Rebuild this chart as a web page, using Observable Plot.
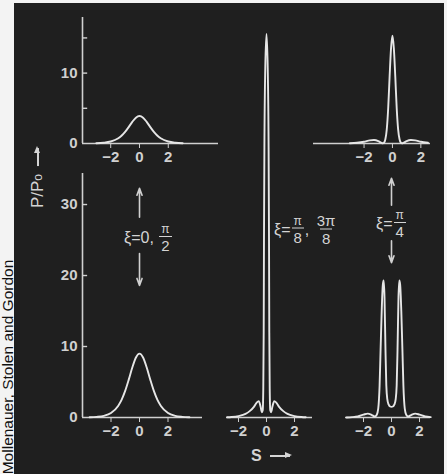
<!DOCTYPE html>
<html><head><meta charset="utf-8">
<script src="https://cdn.jsdelivr.net/npm/d3@7"></script>
<script src="https://cdn.jsdelivr.net/npm/@observablehq/plot@0.6"></script>
<style>
html,body{margin:0;padding:0;background:#f3f3f3;}
#page{position:relative;width:447px;height:474px;overflow:hidden;background:#f3f3f3;font-family:"Liberation Sans",Arial,sans-serif;}
#panel{position:absolute;left:14px;top:3px;width:430px;height:471px;background:#1f1f1f;}
.pp{position:absolute;overflow:visible;}
.pp text{font-weight:bold;}
.lbl{position:absolute;color:#d4d4d4;font-size:16px;display:flex;align-items:center;white-space:nowrap;transform:translateY(-50%);line-height:1;}
.frac{display:inline-flex;flex-direction:column;align-items:center;line-height:1;margin:0 1px;}
.frac .n{font-size:12px;padding:0 2px 1px;}
.frac .d{font-size:15px;border-top:1.5px solid #d4d4d4;padding:1px 2px 0;}
.arr{display:inline-block;position:relative;width:20px;height:1.6px;background:#d4d4d4;margin-left:8px;}
.arr::after{content:"";position:absolute;right:-2px;top:-3px;border-left:7px solid #d4d4d4;border-top:3.8px solid transparent;border-bottom:3.8px solid transparent;}
#pp0{position:absolute;left:38px;top:178px;transform:translate(-50%,-50%) rotate(-90deg);color:#d4d4d4;font-size:17px;display:flex;align-items:center;white-space:nowrap;}
#pp0 sub{font-size:12px;vertical-align:-3px;}
#side{position:absolute;left:7.5px;top:367px;transform:translate(-50%,-50%) rotate(-90deg);color:#111;font-size:15.5px;white-space:nowrap;}
</style>
</head><body>
<div id="page"><div id="panel"></div></div>
<script>
// ---- data ----
const xTickValues = [-2, 0, 2];
const yTicksTop = [0, 10];
const yMinorTop = [5, 10, 15];
const yTicksBottom = [0, 10, 20, 30];

// top-left: xi = 0, pi/2 (N = 2)
const sTopLeft = [-3, -2.5, -2, -1.5, -1.25, -1, -0.75, -0.5, -0.25, 0, 0.25, 0.5, 0.75, 1, 1.25, 1.5, 2, 2.5, 3];
const pTopLeft = [0.04, 0.11, 0.28, 0.7, 1.1, 1.64, 2.33, 3.07, 3.67, 3.9, 3.67, 3.07, 2.33, 1.64, 1.1, 0.7, 0.28, 0.11, 0.04];

// top-right: xi = pi/4 (N = 2)
const sTopRight = [-3, -2.5, -2, -1.6, -1.3, -1, -0.8, -0.68, -0.58, -0.5, -0.4, -0.3, -0.2, -0.1, 0, 0.1, 0.2, 0.3, 0.4, 0.5, 0.58, 0.68, 0.8, 1, 1.3, 1.6, 2, 2.5];
const pTopRight = [0.04, 0.1, 0.25, 0.45, 0.5, 0.35, 0.12, 0.03, 0.15, 0.6, 2.0, 5.0, 9.5, 13.5, 15.3, 13.5, 9.5, 5.0, 2.0, 0.6, 0.15, 0.03, 0.12, 0.35, 0.5, 0.45, 0.25, 0.1];

// bottom-left: xi = 0, pi/2 (N = 3)
const sBotLeft = [-3.5, -3, -2.5, -2, -1.5, -1.25, -1, -0.75, -0.5, -0.25, 0, 0.25, 0.5, 0.75, 1, 1.25, 1.5, 2, 2.5, 3, 3.5];
const pBotLeft = [0.03, 0.09, 0.24, 0.64, 1.63, 2.52, 3.78, 5.37, 7.08, 8.46, 9.0, 8.46, 7.08, 5.37, 3.78, 2.52, 1.63, 0.64, 0.24, 0.09, 0.03];

// bottom-middle: xi = pi/8, 3pi/8 (N = 3)
const sBotMid = [-2.8, -2.5, -2, -1.5, -1.2, -0.9, -0.7, -0.55, -0.42, -0.33, -0.27, -0.23, -0.2, -0.18, -0.15, -0.09, 0, 0.09, 0.15, 0.18, 0.2, 0.23, 0.27, 0.33, 0.42, 0.55, 0.7, 0.9, 1.2, 1.5, 2, 2.5, 2.8];
const pBotMid = [0.03, 0.07, 0.2, 0.5, 0.9, 1.5, 2.1, 2.3, 1.5, 0.75, 1.0, 4, 12, 25, 38, 49, 54, 49, 38, 25, 12, 4, 1.0, 0.75, 1.5, 2.3, 2.1, 1.5, 0.9, 0.5, 0.2, 0.07, 0.03];

// bottom-right: xi = pi/4 (N = 3)
const sBotRight = [-3.2, -2.8, -2.4, -2, -1.7, -1.4, -1.2, -1.05, -0.95, -0.85, -0.78, -0.7, -0.62, -0.56, -0.5, -0.43, -0.37, -0.3, -0.2, -0.1, 0, 0.1, 0.2, 0.3, 0.37, 0.43, 0.5, 0.56, 0.62, 0.7, 0.78, 0.85, 0.95, 1.05, 1.2, 1.4, 1.7, 2, 2.4, 2.8];
const pBotRight = [0.01, 0.05, 0.15, 0.4, 0.55, 0.35, 0.15, 0.4, 1.2, 4.5, 9.5, 15, 18.7, 19.3, 17, 9.5, 4.5, 2.6, 1.8, 1.55, 1.5, 1.55, 1.8, 2.6, 4.5, 9.5, 17, 19.3, 18.7, 15, 9.5, 4.5, 1.2, 0.4, 0.15, 0.35, 0.55, 0.4, 0.15, 0.05];

// ---- drawing ----
const page = document.getElementById("page");
const INK = "#d0d0d0", CURVE = "#e6e6e6";
const mL = 34, mR = 8, mT = 8, mB = 30;
const rows = (s, p) => s.map((v, i) => ({s: v, p: p[i]}));
const intFmt = d3.format("d");

function makePanel(cfg) {
  const [fx0, fx1, fy0, fy1] = cfg.frame;
  const xa = cfg.xDomain[0];
  const marks = [
    Plot.ruleY([0], {stroke: INK, strokeWidth: 1.6}),
    Plot.line(rows(cfg.s, cfg.p), {x: "s", y: "p", curve: "monotone-x", stroke: CURVE, strokeWidth: 1.9})
  ];
  if (cfg.yTicks) {
    marks.unshift(Plot.ruleX([xa], {stroke: INK, strokeWidth: 1.6}));
    marks.push(Plot.ruleY(cfg.yMinor, {y: d => d, x1: () => xa, x2: () => xa + 0.36, stroke: INK, strokeWidth: 1.4}));
  }
  if (cfg.extra) marks.push(...cfg.extra);
  const chart = Plot.plot({
    width: fx1 - fx0 + mL + mR,
    height: fy1 - fy0 + mT + mB,
    marginLeft: mL, marginRight: mR, marginTop: mT, marginBottom: mB,
    x: {domain: cfg.xDomain, ticks: xTickValues, tickFormat: intFmt, tickSize: 5, tickPadding: 3, label: null},
    y: cfg.yTicks
      ? {domain: cfg.yDomain, ticks: cfg.yTicks, tickFormat: intFmt, tickSize: 0, tickPadding: 5, label: null}
      : {domain: cfg.yDomain, axis: null},
    style: {background: "transparent", color: INK, fontSize: "15px", fontFamily: "'Liberation Sans', Arial, sans-serif", overflow: "visible"},
    marks
  });
  chart.classList.add("pp");
  chart.style.left = (fx0 - mL) + "px";
  chart.style.top = (fy0 - mT) + "px";
  page.appendChild(chart);
}

const arrowStyle = {stroke: INK, strokeWidth: 1.6, headLength: 7, headAngle: 40};

makePanel({frame: [82, 218, 17, 143], xDomain: [-3.96, 5.49], yDomain: [0, 17.9],
  yTicks: yTicksTop, yMinor: yMinorTop, s: sTopLeft, p: pTopLeft});
makePanel({frame: [313, 430, 17, 143], xDomain: [-5.56, 2.68], yDomain: [0, 17.9],
  s: sTopRight, p: pTopRight});
makePanel({frame: [82, 202, 173, 417], xDomain: [-4.0, 4.42], yDomain: [0, 34.37],
  yTicks: yTicksBottom, yMinor: yTicksBottom.slice(1), s: sBotLeft, p: pBotLeft,
  extra: [
    Plot.arrow([0], {x1: () => 0, y1: () => 28.2, x2: () => 0, y2: () => 32.3, ...arrowStyle}),
    Plot.arrow([0], {x1: () => 0, y1: () => 23.1, x2: () => 0, y2: () => 18.6, ...arrowStyle})
  ]});
makePanel({frame: [226, 312, 34, 417], xDomain: [-2.857, 3.286], yDomain: [0, 53.94],
  s: sBotMid, p: pBotMid});
makePanel({frame: [345, 430, 168, 417], xDomain: [-3.286, 2.786], yDomain: [0, 35.07],
  s: sBotRight, p: pBotRight,
  extra: [
    Plot.arrow([0], {x1: () => 0, y1: () => 29.9, x2: () => 0, y2: () => 33.7, ...arrowStyle}),
    Plot.arrow([0], {x1: () => 0, y1: () => 24.9, x2: () => 0, y2: () => 21.8, ...arrowStyle})
  ]});

// ---- text annotations ----
function addHTML(html) {
  const t = document.createElement("template");
  t.innerHTML = html.trim();
  page.appendChild(t.content.firstChild);
}
addHTML(`<div class="lbl" style="left:124px;top:238px;">ξ=0,&nbsp;<span class="frac"><span class="n">π</span><span class="d">2</span></span></div>`);
addHTML(`<div class="lbl" style="left:274px;top:229px;">ξ=<span class="frac"><span class="n">π</span><span class="d">8</span></span>,&nbsp;<span class="frac"><span class="n" style="font-size:15px">3π</span><span class="d">8</span></span></div>`);
addHTML(`<div class="lbl" style="left:376px;top:224px;">ξ=<span class="frac"><span class="n">π</span><span class="d">4</span></span></div>`);
addHTML(`<div class="lbl" style="left:251px;top:456px;font-size:16px;font-weight:bold;">S<span class="arr"></span></div>`);
addHTML(`<div id="pp0">P/P<sub>o</sub><span class="arr" style="width:18px"></span></div>`);
addHTML(`<div id="side">Mollenauer, Stolen and Gordon</div>`);
</script>
</body></html>
